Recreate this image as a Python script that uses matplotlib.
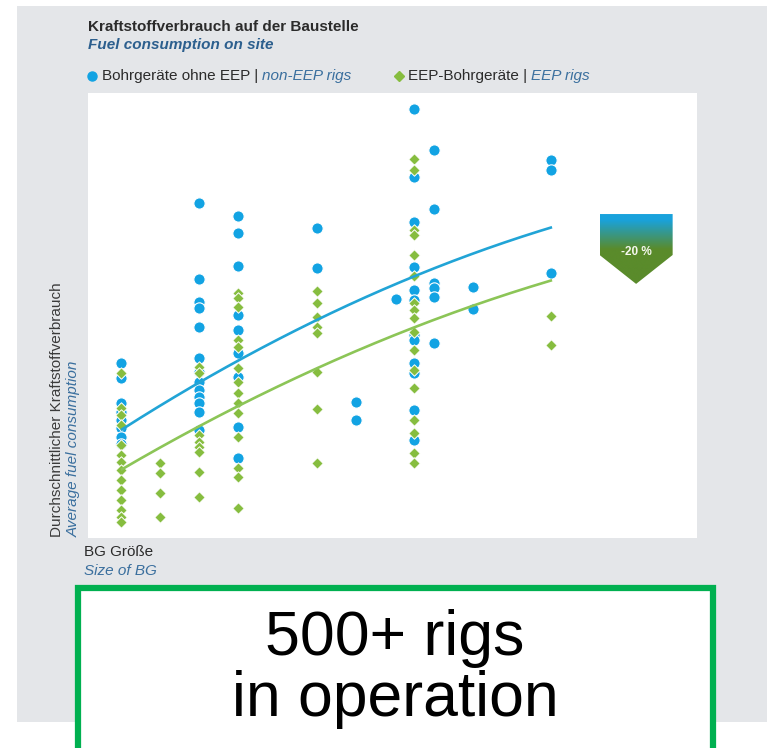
import numpy as np
import matplotlib
matplotlib.use("Agg")
import matplotlib.pyplot as plt
from matplotlib.patches import Rectangle, Polygon

# ---- data -------------------------------------------------------------
# rig size classes (BG size, arbitrary units)
size_classes = [5.4, 11.8, 18.2, 24.6, 37.6, 44.0, 50.6, 53.5, 56.8, 63.2, 76.0]

# average fuel consumption per rig, grouped by size class
fuel_non_eep = [
    [39.3, 36.0, 30.3, 28.3, 26.5, 24.7, 22.7, 21.1],
    [],
    [75.3, 58.2, 53.0, 51.7, 47.4, 40.4, 37.3, 35.1, 33.3, 31.7, 30.3, 28.3, 24.3],
    [72.4, 68.5, 61.1, 50.1, 46.7, 41.6, 36.2, 24.9, 18.0],
    [69.7, 60.7],
    [30.6, 26.5],
    [53.7],
    [96.4, 81.1, 71.0, 60.9, 55.7, 53.5, 45.6, 44.5, 39.3, 37.1, 28.8, 22.0],
    [87.2, 73.9, 57.3, 56.2, 54.2, 43.8],
    [56.4, 51.5],
    [84.9, 82.7, 59.6],
]
fuel_eep = [
    [37.1, 29.2, 27.6, 25.4, 20.9, 18.7, 17.1, 15.3, 13.0, 10.8, 8.5, 6.3, 4.7, 3.6],
    [16.9, 14.6, 10.1, 4.7],
    [38.4, 37.1, 23.1, 21.6, 20.4, 19.3, 14.8, 9.2],
    [55.1, 53.9, 51.9, 44.5, 42.9, 38.2, 35.1, 32.6, 30.3, 28.1, 22.7, 15.7, 13.7, 6.7],
    [55.5, 52.8, 49.7, 47.4, 46.1, 37.3, 29.0, 16.9],
    [],
    [],
    [85.2, 82.7, 69.2, 68.1, 63.6, 58.9, 52.8, 51.2, 49.4, 46.3, 42.2, 37.8, 33.7, 26.5, 23.6, 19.1, 16.9],
    [],
    [],
    [49.9, 43.4],
]

# trend curves (fitted consumption) at selected sizes
trend_size = [5.6, 18.4, 24.8, 47.9, 76.2]
trend_non_eep = [24.3, 35.1, 40.2, 55.3, 69.9]
trend_eep = [15.3, 25.4, 29.9, 44.0, 58.0]

reduction_label = "-20 %"

# ---- styling ----------------------------------------------------------
BLUE = "#12a3e3"
GREEN = "#86bd3f"
BLUE_LINE = "#21a4d6"
GREEN_LINE = "#8cc557"
TEXT_DARK = "#2b2b2b"
TEXT_BLUE = "#3a6f9e"
PANEL = "#e4e6e9"

plt.rcParams["font.family"] = ["Liberation Sans", "DejaVu Sans"]

W, H = 767, 748
fig = plt.figure(figsize=(W / 100, H / 100), dpi=100)
fig.patch.set_facecolor("white")


def fx(px):
    return px / W


def fy(py):
    return 1 - py / H


# grey panel behind the chart
bg = fig.add_axes([0, 0, 1, 1], zorder=-5)
bg.set_xlim(0, W)
bg.set_ylim(H, 0)
bg.axis("off")
bg.add_patch(Rectangle((17, 6), W - 17, 716, facecolor=PANEL, edgecolor="none"))

# ---- main scatter axes ------------------------------------------------
ax = fig.add_axes([fx(88), fy(538), fx(697) - fx(88), fy(93) - fy(538)], zorder=1)
ax.set_facecolor("white")
ax.set_xlim(0, 100)
ax.set_ylim(0, 100)
for s in ax.spines.values():
    s.set_visible(False)
ax.set_xticks([])
ax.set_yticks([])

bx, by = [], []
for x, vals in zip(size_classes, fuel_non_eep):
    bx += [x] * len(vals)
    by += vals
gx, gy = [], []
for x, vals in zip(size_classes, fuel_eep):
    gx += [x] * len(vals)
    gy += vals

ax.scatter(bx, by, s=66, marker="o", color=BLUE, edgecolor="white",
           linewidth=0.8, zorder=3)
ax.scatter(gx, gy, s=34, marker="D", color=GREEN, edgecolor="white",
           linewidth=0.7, zorder=4)

xs = np.linspace(trend_size[0] - 0.2, trend_size[-1], 200)
cb = np.polyfit(trend_size, trend_non_eep, 2)
cg = np.polyfit(trend_size, trend_eep, 2)
ax.plot(xs, np.polyval(cb, xs), color=BLUE_LINE, lw=1.9, zorder=5,
        solid_capstyle="butt")
ax.plot(xs, np.polyval(cg, xs), color=GREEN_LINE, lw=1.9, zorder=5,
        solid_capstyle="butt")

# reduction badge: gradient pentagon arrow
bx0, bx1 = 84.0, 96.0
by_top, by_rect, by_tip = 72.8, 63.6, 57.1
badge = Polygon([(bx0, by_top), (bx1, by_top), (bx1, by_rect),
                 ((bx0 + bx1) / 2, by_tip), (bx0, by_rect)],
                closed=True, transform=ax.transData, facecolor="none",
                edgecolor="none")
ax.add_patch(badge)
top_c = np.array(matplotlib.colors.to_rgb("#19a2dc"))
bot_c = np.array(matplotlib.colors.to_rgb("#5a8b2b"))
t = np.linspace(0, 1, 256)
mix = np.clip((t - 0.08) / 0.42, 0, 1)[:, None]
grad = (1 - mix) * top_c + mix * bot_c
img = ax.imshow(grad[:, None, :], extent=(bx0, bx1, by_tip, by_top),
                origin="upper", aspect="auto", zorder=6, interpolation="bilinear")
img.set_clip_path(badge)
ax.text((bx0 + bx1) / 2, 64.3, reduction_label, color="#f4f7ee",
        fontsize=8.5, fontweight="bold", ha="center", va="center", zorder=7)
ax.set_xlim(0, 100)
ax.set_ylim(0, 100)

# ---- titles and legend --------------------------------------------------
bg.text(88, 27, "Kraftstoffverbrauch auf der Baustelle",
        fontsize=11, fontweight="bold", color=TEXT_DARK, va="center")
bg.text(88, 45, "Fuel consumption on site", fontsize=11,
        fontweight="bold", style="italic", color="#2c5f8e", va="center")

bg.plot([92], [76], marker="o", markersize=6.5, color=BLUE, ls="none")
t1 = bg.text(102, 76, "Bohrgeräte ohne EEP | ", fontsize=11,
             color=TEXT_DARK, va="center")
bg.annotate("non-EEP rigs", xy=(1, 0.5), xycoords=t1, va="center",
            fontsize=11, style="italic", color=TEXT_BLUE)
bg.plot([399], [76], marker="D", markersize=5.5, color=GREEN, ls="none")
t2 = bg.text(408, 76, "EEP-Bohrgeräte | ", fontsize=11,
             color=TEXT_DARK, va="center")
bg.annotate("EEP rigs", xy=(1, 0.5), xycoords=t2, va="center",
            fontsize=11, style="italic", color=TEXT_BLUE)

# axis captions
bg.text(57, 537, "Durchschnittlicher Kraftstoffverbrauch",
        rotation=90, fontsize=11, color="#3a3a3a", ha="center", va="bottom")
bg.text(74, 537, "Average fuel consumption", rotation=90,
        fontsize=11, style="italic", color=TEXT_BLUE, ha="center",
        va="bottom")
bg.text(84, 552, "BG Größe", fontsize=11, color=TEXT_DARK, va="center")
bg.text(84, 571, "Size of BG", fontsize=11, style="italic",
        color=TEXT_BLUE, va="center")

# ---- callout box ----------------------------------------------------------
top = fig.add_axes([0, 0, 1, 1], zorder=10)
top.set_xlim(0, W)
top.set_ylim(H, 0)
top.axis("off")
top.add_patch(Rectangle((78, 588), 635, 180, facecolor="white",
                        edgecolor="#00b050", linewidth=4.5, clip_on=False))
top.text(395, 655, "500+ rigs", fontsize=45, color="black",
         ha="center", va="baseline")
top.text(395, 716, "in operation", fontsize=45, color="black",
         ha="center", va="baseline")

fig.savefig("out.png", dpi=100)
